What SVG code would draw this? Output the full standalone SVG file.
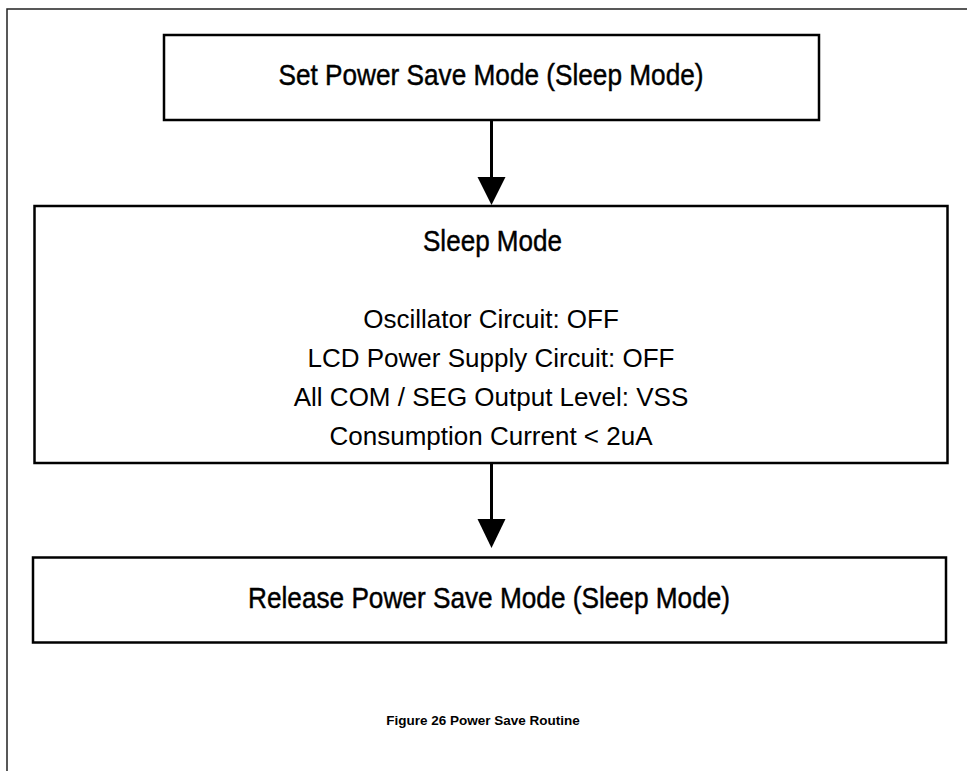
<svg xmlns="http://www.w3.org/2000/svg" width="967" height="771" viewBox="0 0 967 771">
<style>
.frame{fill:none;stroke:#222;stroke-width:1.5}
.box{fill:#fff;stroke:#000;stroke-width:2.5}
.t{font-family:"Liberation Sans",Arial,sans-serif;fill:#000;text-anchor:middle}
.big{font-size:30px;stroke:#000;stroke-width:0.45}
.body{font-size:26px}
.cap{font-size:13.5px;font-weight:bold}
.conn line{stroke:#000;stroke-width:3}
.conn path{fill:#000}
</style>
<rect width="967" height="771" fill="#fff"/>
<path class="frame" d="M7,771 V9 H967"/>
<g id="node-set">
<rect class="box" x="164" y="35" width="655" height="85"/>
<text class="t big" x="491" y="85" textLength="425" lengthAdjust="spacingAndGlyphs">Set Power Save Mode (Sleep Mode)</text>
</g>
<g id="node-sleep">
<rect class="box" x="34.5" y="206" width="913" height="257"/>
<text class="t big" x="492.5" y="251" textLength="139" lengthAdjust="spacingAndGlyphs">Sleep Mode</text>
<text class="t body" x="491" y="328">Oscillator Circuit: OFF</text>
<text class="t body" x="491" y="367">LCD Power Supply Circuit: OFF</text>
<text class="t body" x="491" y="406">All COM / SEG Output Level: VSS</text>
<text class="t body" x="491" y="445">Consumption Current &lt; 2uA</text>
</g>
<g id="node-release">
<rect class="box" x="33" y="557.5" width="913" height="85"/>
<text class="t big" x="489" y="608" textLength="482" lengthAdjust="spacingAndGlyphs">Release Power Save Mode (Sleep Mode)</text>
</g>
<g id="connectors" class="conn">
<line x1="491.5" y1="121" x2="491.5" y2="180"/>
<path d="M477.5,177 L505.5,177 L491.5,205 Z"/>
<line x1="491.5" y1="464" x2="491.5" y2="522"/>
<path d="M477.5,519 L505.5,519 L491.5,548 Z"/>
</g>
<text class="t cap" x="483" y="725">Figure 26 Power Save Routine</text>
</svg>
